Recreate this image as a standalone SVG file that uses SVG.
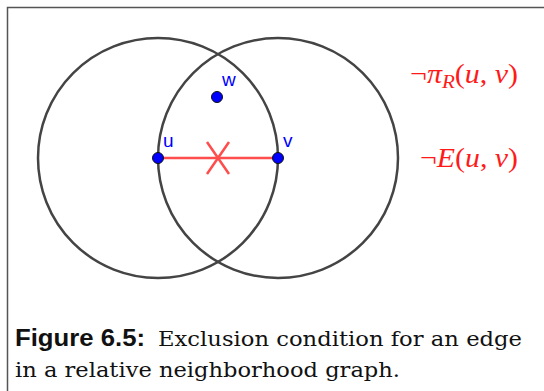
<svg xmlns="http://www.w3.org/2000/svg" width="544" height="391" viewBox="0 0 544 391">
<style>
.circ{fill:none;stroke:#444;stroke-width:2.5}
.edge{stroke:#ff4d4d;stroke-width:2.5;fill:none}
.pt{fill:#0000ff;stroke:#111;stroke-width:1}
.lbl{font-family:"Liberation Sans",Arial,sans-serif;font-size:19px;fill:#0000ff}
.math{font-family:"Liberation Serif","Times New Roman",serif;font-style:italic;font-size:27px;fill:#ff1a1a}
.cap{font-family:"DejaVu Serif",serif;font-size:21px;fill:#111}
.capb{font-family:"Liberation Sans",Arial,sans-serif;font-weight:bold;font-size:24px;fill:#111}
</style>
<rect width="544" height="391" fill="#fff"/>
<path d="M7.5 391V7.5H544" fill="none" stroke="#555" stroke-width="1.5"/>
<g id="circles">
<circle class="circ" cx="158" cy="158" r="120"/>
<circle class="circ" cx="278" cy="158" r="120"/>
</g>
<g id="connectors">
<line class="edge" x1="158" y1="158" x2="278" y2="158"/>
<path class="edge" d="M207 142L229 174M229 142L207 174"/>
</g>
<g id="u"><circle class="pt" cx="158" cy="158" r="5.5"/><text class="lbl" x="163" y="147">u</text></g>
<g id="v"><circle class="pt" cx="278" cy="158" r="5.5"/><text class="lbl" x="283" y="147">v</text></g>
<g id="w"><circle class="pt" cx="217" cy="97" r="5.5"/><text class="lbl" x="222" y="86">w</text></g>
<g id="labels">
<text class="math" x="410" y="83" textLength="108" lengthAdjust="spacingAndGlyphs"><tspan font-style="normal">¬</tspan>π<tspan font-size="19" dy="5">R</tspan><tspan dy="-5" font-style="normal">(</tspan>u<tspan font-style="normal">, </tspan>v<tspan font-style="normal">)</tspan></text>
<text class="math" x="420" y="167" textLength="98" lengthAdjust="spacingAndGlyphs"><tspan font-style="normal">¬</tspan>E<tspan font-style="normal">(</tspan>u<tspan font-style="normal">, </tspan>v<tspan font-style="normal">)</tspan></text>
</g>
<g id="caption">
<text class="capb" x="15" y="346" textLength="130" lengthAdjust="spacingAndGlyphs">Figure 6.5:</text>
<text class="cap" x="158" y="346" textLength="364" lengthAdjust="spacingAndGlyphs">Exclusion condition for an edge</text>
<text class="cap" x="15" y="377" textLength="385" lengthAdjust="spacingAndGlyphs">in a relative neighborhood graph.</text>
</g>
</svg>
